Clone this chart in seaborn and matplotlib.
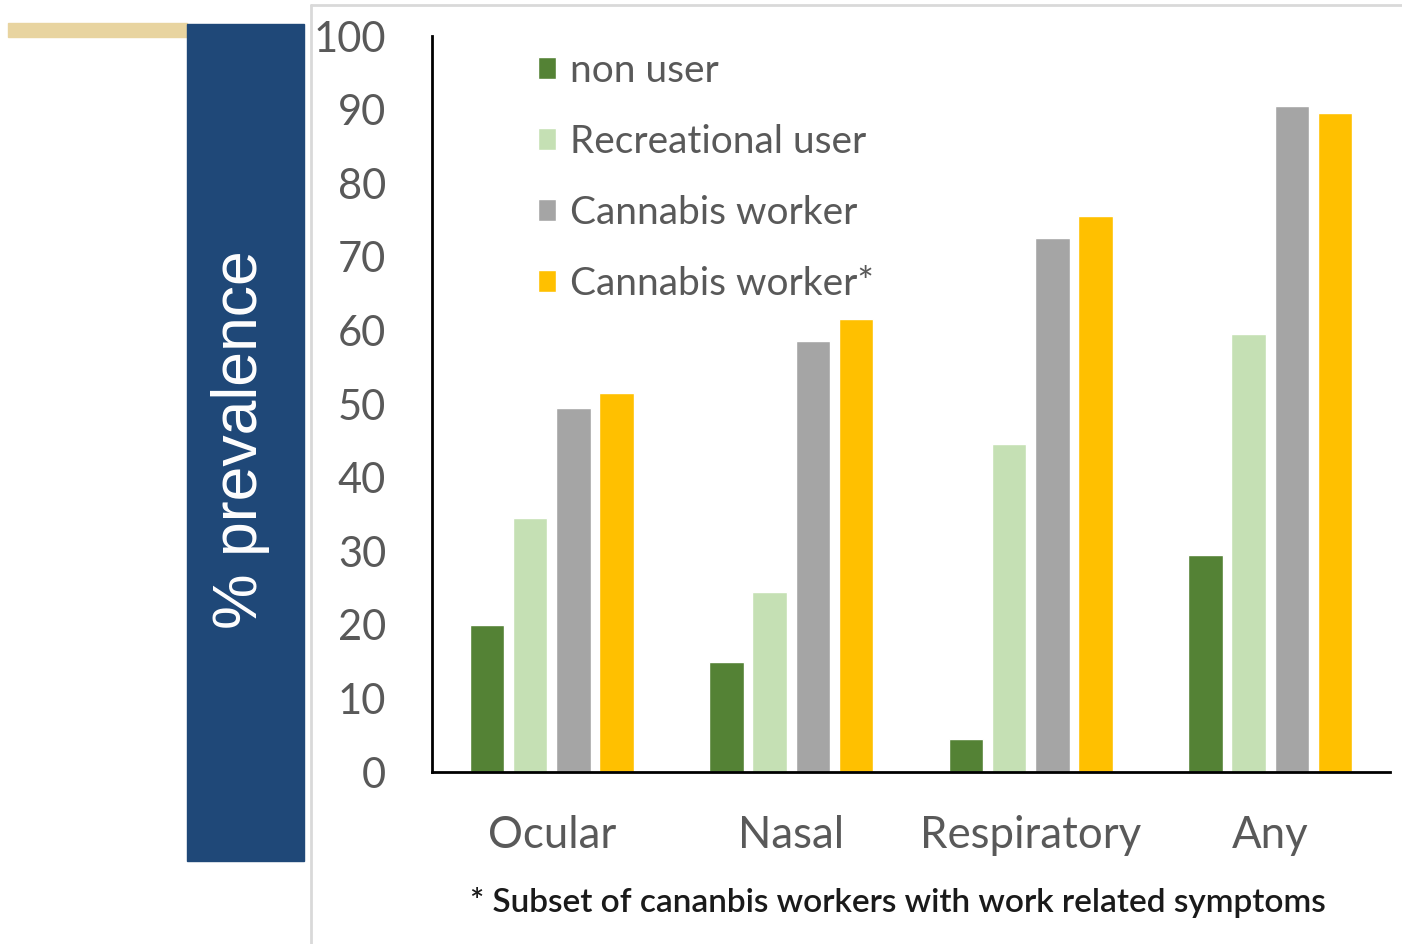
import matplotlib
matplotlib.use("Agg")
import matplotlib.pyplot as plt
from matplotlib.patches import Rectangle
from matplotlib.lines import Line2D
import pandas as pd
import seaborn as sns

# data (% prevalence)
symptoms = ["Ocular", "Nasal", "Respiratory", "Any"]
groups = ["non user", "Recreational user", "Cannabis worker", "Cannabis worker*"]
non_user = [20, 15, 4.5, 29.5]
recreational = [34.5, 24.5, 44.5, 59.5]
worker = [49.5, 58.5, 72.5, 90.5]
worker_symptoms = [51.5, 61.5, 75.5, 89.5]
colors = ["#548235", "#C5E0B4", "#A5A5A5", "#FFC000"]
footnote = "* Subset of cananbis workers with work related symptoms"

df = pd.DataFrame({
    "symptom": symptoms * 4,
    "group": [g for g in groups for _ in symptoms],
    "prevalence": non_user + recreational + worker + worker_symptoms,
})

sns.set_theme(style="white")
plt.rcParams["font.family"] = ["Lato", "DejaVu Sans"]

W, H = 1402, 944
fig = plt.figure(figsize=(W / 100, H / 100), dpi=100)
ax = fig.add_axes([432 / W, (H - 772) / H, (1390 - 432) / W, (772 - 36) / H])

sns.barplot(data=df, x="symptom", y="prevalence", hue="group",
            palette=colors, saturation=1, width=0.72, gap=0.2, ax=ax)

ax.set_ylim(0, 100)
ax.set_xlim(-0.5, 3.5)
ax.set_yticks(range(0, 101, 10))
ax.set_xlabel("")
ax.set_ylabel("")
ax.tick_params(axis="y", length=0, pad=33, labelsize=30, labelcolor="#595959")
ax.tick_params(axis="x", length=0, pad=31, labelsize=31.5, labelcolor="#595959")
for side in ("top", "right"):
    ax.spines[side].set_visible(False)
for side in ("left", "bottom"):
    ax.spines[side].set_color("black")
    ax.spines[side].set_linewidth(2)

handles, labels = ax.get_legend_handles_labels()
ax.get_legend().remove()
fig.legend(handles, labels, loc="upper left", bbox_to_anchor=(503 / W, 1 - 18 / H),
           frameon=False, fontsize=28, labelcolor="#595959",
           handlelength=0.47, handleheight=0.47, handletextpad=0.36,
           labelspacing=0.9)

fig.text(470 / W, 1 - 902 / H, footnote, fontsize=24, fontweight="semibold",
         color="#1a1a1a", ha="left", va="center")

# left title panel
fig.patches.append(Rectangle((8 / W, 1 - 37 / H), (187 - 8) / W, 14 / H,
                             transform=fig.transFigure, color="#E8D4A0"))
fig.patches.append(Rectangle((187 / W, 1 - 861 / H), (304 - 187) / W, (861 - 24) / H,
                             transform=fig.transFigure, color="#1F4878"))
fig.text(240 / W, 1 - 440 / H, "% prevalence", rotation=90, color="white",
         fontsize=45, family=["Liberation Sans", "DejaVu Sans"],
         ha="center", va="center")

# thin frame of the embedded chart
fig.add_artist(Line2D([311 / W, 311 / W], [0, 1 - 5 / H], transform=fig.transFigure,
                      color="#D9D9D9", lw=2))
fig.add_artist(Line2D([311 / W, 1], [1 - 5 / H, 1 - 5 / H], transform=fig.transFigure,
                      color="#D9D9D9", lw=2))

fig.savefig("out.png", dpi=100)
